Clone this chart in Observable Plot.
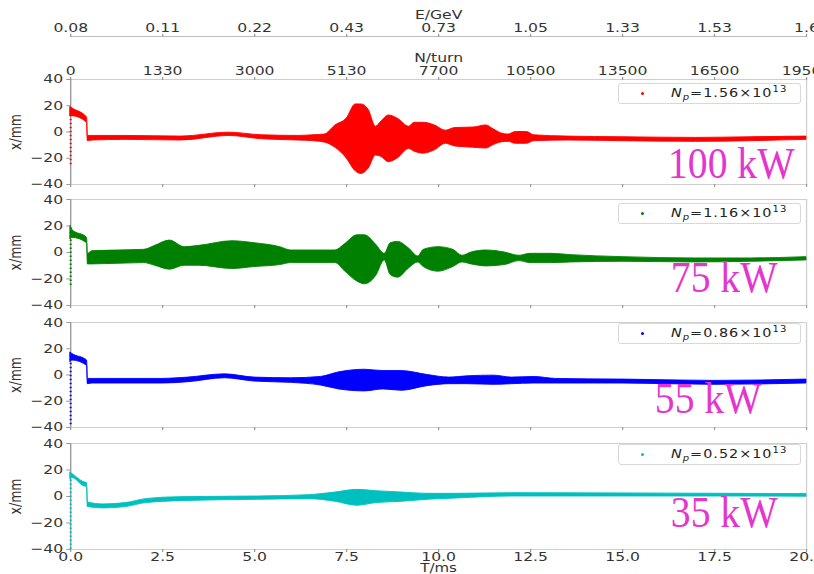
<!DOCTYPE html>
<html><head><meta charset="utf-8">
<script src="https://cdn.jsdelivr.net/npm/d3@7"></script>
<script src="https://cdn.jsdelivr.net/npm/@observablehq/plot@0.6"></script>
<style>
html,body{margin:0;padding:0;background:#fff;overflow:hidden;width:814px;height:574px}
#root{position:relative;width:814px;height:574px;overflow:hidden;background:#fff}
.layer{position:absolute;left:0;transform-origin:0 0}
.legend{position:absolute;left:618px;width:181px;height:19px;border:1px solid #d8d8d8;border-radius:3px;background:#fff;box-sizing:content-box}
.legend .dot{position:absolute;left:22px;top:8px;width:3px;height:3px;border-radius:50%}
.legend .lab{position:absolute;left:52px;top:2px;font-family:"DejaVu Sans";font-size:11.5px;color:#222;letter-spacing:0.8px;transform:scaleX(1.25);transform-origin:0 0;white-space:nowrap;line-height:15px}
.legend sub,.legend sup{font-size:8px;line-height:0}
.legend sub{font-style:italic}
.kw{position:absolute;font-family:"Liberation Serif";font-size:44px;line-height:44px;color:#e535cf;white-space:nowrap;transform:scaleX(0.9);transform-origin:100% 0}
</style></head><body><div id="root"></div>
<script>
// ---- data ----
const timeTicks = [0, 2.5, 5, 7.5, 10, 12.5, 15, 17.5, 20];
const timeTickLabels = ["0.0","2.5","5.0","7.5","10.0","12.5","15.0","17.5","20.0"];
const energyTickLabels = ["0.08","0.11","0.22","0.43","0.73","1.05","1.33","1.53","1.6"];
const turnTickLabels = ["0","1330","3000","5130","7700","10500","13500","16500","19500"];
const yTicks = [-40, -20, 0, 20, 40];
const powers = ["100 kW", "75 kW", "55 kW", "35 kW"];
const intensities = ["1.56", "1.16", "0.86", "0.52"];
const colors = ["#ff0000", "#008000", "#0000ff", "#00bfbf"];

// 100 kW (red): envelope of x/mm vs T/ms
const t100  = [0,0.05,0.45,0.47,0.6,1.5,3.0,4.3,5.2,6.2,6.6,6.9,7.2,7.5,7.75,7.9,8.1,8.3,8.45,8.65,8.9,9.2,9.35,9.6,9.9,10.2,10.45,10.95,11.3,11.5,11.7,11.9,12.1,12.4,12.6,13.5,15,17,18.5,20];
const hi100 = [19,18,11,-3,-3,-3,-3.5,-0.5,-2.5,-3,-2.5,-2,5,10,21,21,17,4,8,12.6,10,4,7,7,5,1,3,3.4,5,2,-1,-2,0,0,-2.5,-3.5,-4,-4.5,-4,-3.5];
const lo100 = [12,12,7,-7,-6.5,-6,-6.5,-3,-5.5,-6.5,-7,-8,-12,-20,-30,-32,-28,-18,-19,-23,-20,-13,-15,-16.5,-14,-9,-11,-12,-12.6,-10,-8,-7.5,-9,-9,-7,-6.5,-7,-7.5,-7,-6];

// 75 kW (green)
const t75  = [0,0.05,0.45,0.47,0.6,2.0,2.3,2.7,3.1,3.5,4.4,5.0,5.7,6.0,7.2,7.45,7.8,8.0,8.3,8.54,8.7,8.9,9.2,9.45,9.6,10.0,10.4,10.65,10.9,11.3,11.8,12.2,12.5,13.05,13.6,15,17,18.5,20];
const hi75 = [20,17,11,-1,1,2,5,9,4,5,8.5,7,4,1.5,1.5,6,13,13,6,-1,7,8,3,-3,2,4,2,-2.5,0,1.5,0,-2.5,-1,-1,-2,-3.5,-4.5,-4.5,-3.5];
const lo75 = [10,11,7,-9,-9,-8,-10,-13,-10,-10,-12.5,-11,-9.5,-8,-8,-14,-22,-24,-18,-6,-17,-19,-12,-7.5,-11,-14.5,-11,-7.5,-9,-10.5,-9.5,-6.5,-8,-8,-7.5,-7,-7.5,-7,-6];

// 55 kW (blue)
const t55  = [0,0.05,0.45,0.47,0.6,2.5,3.2,4.2,5.0,6.0,6.8,7.3,8.0,8.5,9.0,9.7,10.3,10.8,11.5,12.0,12.6,13.2,15,17.5,20];
const hi55 = [17,16,11,-3,-3,-3,-2,0.5,-2,-2.5,-1.5,2,4,3,3,0,-2,-1,-0.5,-2,-1.5,-3,-3.5,-4.5,-3.5];
const lo55 = [10,11,7,-7,-6.5,-6.5,-5.5,-2.5,-5,-6,-8,-11,-12.5,-11,-12,-8.5,-7,-7,-7.5,-7,-6.5,-6.5,-6.5,-7.5,-6.5];

// 35 kW (cyan)
const t35  = [0,0.05,0.35,0.45,0.47,0.9,1.5,2.05,3.0,5.1,6.5,7.2,7.8,8.3,9.0,9.7,10.5,12,15,18,20];
const hi35 = [18,17,11,10,-4.5,-6,-5,-2,-0.5,0,1,3,5,4,3,2,2,2.5,2.3,2,1.8];
const lo35 = [13,14,8,7,-8,-9,-8,-5,-3.5,-2.5,-2,-4,-7,-5,-4,-2.5,-1.5,0,0,0,-0.2];

// injection scatter at T = 0
const injTop = [18, 20, 16, 17];
const injBottom = [-25, -25, -38, -40];

const times = [t100, t75, t55, t35];
const uppers = [hi100, hi75, hi55, hi35];
const lowers = [lo100, lo75, lo55, lo35];

// ---- layout ----
const S = 1.25;               // horizontal stretch of the original figure
const W0 = 814 / S;
const ML = 70 / S, MR = 8 / S;
const panelTop = [79, 199, 322, 443];
const panelBottom = [184, 305, 427, 549];
const legendTop = [83, 203, 323, 444];
const kwRight = [795, 778, 762, 778];
const kwBaseline = [179, 293, 414, 528];
const root = document.getElementById("root");
const baseStyle = {background: "transparent", fontFamily: "DejaVu Sans", fontSize: "12.5px", color: "#333", overflow: "visible"};
const idx = d => timeTicks.indexOf(d);
const fmtY = d => d < 0 ? "\u2212" + Math.abs(d) : String(d);

function place(node, top) {
  const div = document.createElement("div");
  div.className = "layer";
  div.style.top = top + "px";
  div.style.transform = `scaleX(${S})`;
  div.appendChild(node);
  root.appendChild(div);
}

// top energy axis
place(Plot.plot({
  width: W0, height: 40, marginTop: 36, marginBottom: 3, marginLeft: ML, marginRight: MR,
  style: baseStyle,
  x: {domain: [0, 20], axis: null}, y: {domain: [0, 1], axis: null},
  marks: [
    Plot.ruleY([1], {stroke: "#bbb"}),
    Plot.axisX({anchor: "top", ticks: timeTicks, tickSize: 3, tickPadding: 1, stroke: "#999", fill: "#333",
      tickFormat: d => energyTickLabels[idx(d)], label: null}),
    Plot.text(["E/GeV"], {frameAnchor: "top", lineAnchor: "middle", dy: -21, fill: "#333"})
  ]
}), 0);

for (let i = 0; i < 4; i++) {
  const first = i === 0, last = i === 3;
  const mt = first ? 30 : 6, mb = last ? 25 : 6;
  const h = panelBottom[i] - panelTop[i];
  const color = colors[i];
  const data = times[i].map((t, k) => ({t, hi: uppers[i][k], lo: lowers[i][k]}));
  const marks = [
    Plot.frame({stroke: "#cfcfcf"}),
    Plot.ruleX([0], {stroke: "#999"}),
    Plot.areaY(data, {x: "t", y1: "lo", y2: "hi", fill: color, stroke: color, strokeWidth: 0.8, curve: "monotone-x"}),
    Plot.ruleX([0], {y1: injBottom[i], y2: injTop[i], stroke: color, strokeWidth: 1.6, strokeDasharray: "1.5,2.5"}),
    Plot.axisY({ticks: yTicks, tickSize: 3, tickPadding: 3, tickFormat: fmtY, stroke: "#999", fill: "#333", label: null}),
    Plot.axisX({anchor: "bottom", ticks: timeTicks, tickSize: 3, tickPadding: 0, stroke: "#999", fill: "#333",
      tickFormat: last ? (d => timeTickLabels[idx(d)]) : (() => ""), label: null}),
    Plot.text(["x/mm"], {frameAnchor: "left", dx: -44, rotate: -90, textAnchor: "middle", lineAnchor: "middle", fill: "#333"})
  ];
  if (first) {
    marks.push(Plot.axisX({anchor: "top", ticks: timeTicks, tickSize: 3, tickPadding: 1, stroke: "#999", fill: "#333",
      tickFormat: d => turnTickLabels[idx(d)], label: null}));
    marks.push(Plot.text(["N/turn"], {frameAnchor: "top", lineAnchor: "middle", dy: -22, fill: "#333"}));
  }
  if (last) marks.push(Plot.text(["T/ms"], {frameAnchor: "bottom", lineAnchor: "middle", dy: 18.5, fontSize: 12, fill: "#333"}));
  place(Plot.plot({
    width: W0, height: h + mt + mb, marginTop: mt, marginBottom: mb, marginLeft: ML, marginRight: MR,
    style: baseStyle,
    x: {domain: [0, 20], axis: null}, y: {domain: [-40, 40], axis: null},
    marks
  }), panelTop[i] - mt);

  // legend
  const lg = document.createElement("div");
  lg.className = "legend";
  lg.style.top = legendTop[i] + "px";
  lg.innerHTML = `<span class="dot" style="background:${color}"></span><span class="lab"><i>N</i><sub>p</sub>=${intensities[i]}×10<sup>13</sup></span>`;
  root.appendChild(lg);

  // power label
  const kw = document.createElement("div");
  kw.className = "kw";
  kw.style.right = (814 - kwRight[i]) + "px";
  kw.style.top = (kwBaseline[i] - 36.85) + "px";
  kw.textContent = powers[i];
  root.appendChild(kw);
}
</script>
</body></html>
